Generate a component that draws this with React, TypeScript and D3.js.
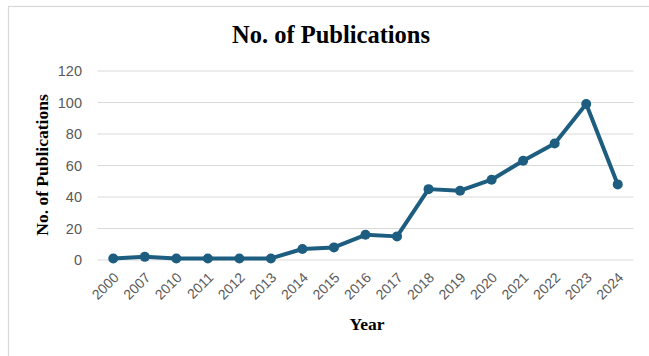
import React from "react";
import * as d3 from "d3";

// Publication counts per year
const years = ["2000", "2007", "2010", "2011", "2012", "2013", "2014", "2015", "2016", "2017", "2018", "2019", "2020", "2021", "2022", "2023", "2024"];
const publications = [1, 2, 1, 1, 1, 1, 7, 8, 16, 15, 45, 44, 51, 63, 74, 99, 48];
const yTicks = [0, 20, 40, 60, 80, 100, 120];

const W = 649;
const H = 356;
const margin = { left: 97.5, right: 15.5, top: 71, bottom: 96 };
const lineColor = "#1d5e80";
const serif = "'Liberation Serif', 'Times New Roman', serif";
const sans = "'Liberation Sans', Arial, sans-serif";

export default function App() {
  const x = d3
    .scaleBand<string>()
    .domain(years)
    .range([margin.left, W - margin.right]);
  const y = d3
    .scaleLinear()
    .domain([0, 120])
    .range([H - margin.bottom, margin.top]);

  const cx = (yr: string) => (x(yr) ?? 0) + x.bandwidth() / 2;
  const pts = years.map((yr, i) => ({ yr, v: publications[i] }));
  const line = d3
    .line<{ yr: string; v: number }>()
    .x((d) => cx(d.yr))
    .y((d) => y(d.v));

  return (
    <svg
      width={W}
      height={H}
      style={{ position: "absolute", left: 0, top: 0, background: "#fff" }}
    >
      {/* chart frame */}
      <rect x={8.5} y={6.5} width={W + 10} height={H + 10} fill="#fff" stroke="#d9d9d9" strokeWidth={1.2} />

      <text x={331} y={43} textAnchor="middle" fontFamily={serif} fontWeight="bold" fontSize={24.5} fill="#000">
        No. of Publications
      </text>

      {/* gridlines and y tick labels */}
      {yTicks.map((t) => (
        <g key={t}>
          <line x1={margin.left} x2={W - margin.right} y1={y(t)} y2={y(t)} stroke="#d9d9d9" strokeWidth={1} />
          <text x={82} y={y(t)} dy="0.35em" textAnchor="end" fontFamily={sans} fontSize={14.5} fill="#595959">
            {t}
          </text>
        </g>
      ))}

      {/* x tick labels */}
      {years.map((yr) => (
        <text
          key={yr}
          transform={`translate(${cx(yr) + 3},${y(0) + 15}) rotate(-45)`}
          textAnchor="end"
          dy="0.35em"
          fontFamily={sans}
          fontSize={14}
          fill="#595959"
        >
          {yr}
        </text>
      ))}

      <path d={line(pts) ?? ""} fill="none" stroke={lineColor} strokeWidth={4} strokeLinejoin="round" />
      {pts.map((d) => (
        <circle key={d.yr} cx={cx(d.yr)} cy={y(d.v)} r={5} fill={lineColor} />
      ))}

      <text x={367} y={330} textAnchor="middle" fontFamily={serif} fontWeight="bold" fontSize={17.5} fill="#000">
        Year
      </text>
      <text
        transform={`translate(48,${165}) rotate(-90)`}
        textAnchor="middle"
        fontFamily={serif}
        fontWeight="bold"
        fontSize={17.5}
        fill="#000"
      >
        No. of Publications
      </text>
    </svg>
  );
}
